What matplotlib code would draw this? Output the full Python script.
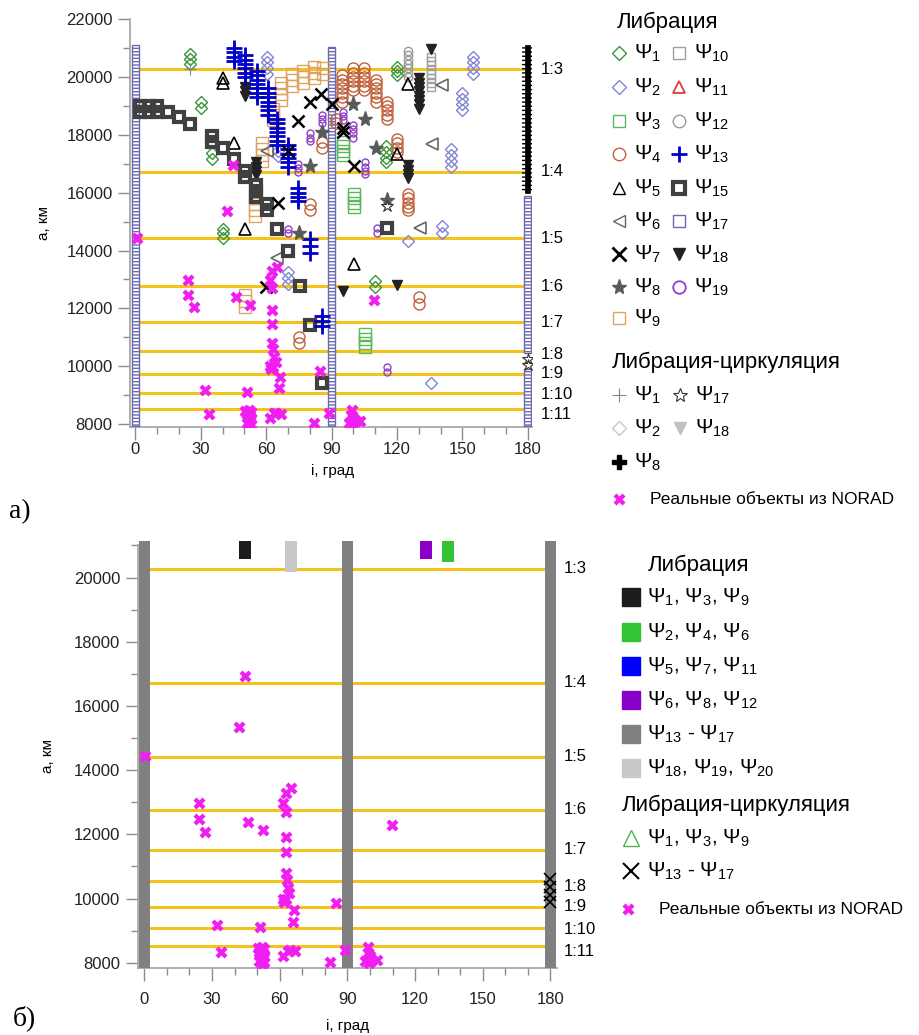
import matplotlib
matplotlib.use('Agg')
import matplotlib.pyplot as plt
from matplotlib.ticker import MultipleLocator

plt.rcParams['font.family'] = ['Liberation Sans', 'DejaVu Sans']
plt.rcParams['mathtext.fontset'] = 'custom'
plt.rcParams['mathtext.rm'] = 'Liberation Sans'
plt.rcParams['mathtext.it'] = 'Liberation Sans'
plt.rcParams['mathtext.default'] = 'regular'
plt.rcParams['hatch.linewidth'] = 1.0

# резонансы
res_labels = ['1:3', '1:4', '1:5', '1:6', '1:7', '1:8', '1:9', '1:10', '1:11']
res_a = [20270, 16730, 14420, 12770, 11520, 10540, 9750, 9080, 8520]

# реальные объекты NORAD (i, a)
norad_i = [0.5, 44.6, 42, 24.1, 24.1, 27, 46, 52.7, 32, 33.9, 51.4,
           50.5, 52, 53, 51, 52.5, 51.5, 53, 52, 51, 53, 52,
           61.6, 62.8, 65, 62.8, 62.8, 62.8, 62.8, 63.2, 63.6, 64.3, 61.6, 62, 63,
           66.2, 65.7, 61.6, 64.5, 66.9, 63.5,
           82.1, 84.8, 88.8, 99.2, 99, 100, 101, 98, 103, 99.5, 109.7]
norad_a = [14430, 16940, 15350, 12970, 12480, 12060, 12390, 12130, 9175, 8340, 9120,
           8450, 8500, 8420, 8350, 8300, 8220, 8180, 8100, 8050, 8020, 7960,
           12970, 13280, 13430, 12700, 11930, 11460, 10790, 10580, 10330, 10160, 10000, 9900, 9990,
           9640, 9260, 8220, 8400, 8360, 8380,
           8030, 9850, 8400, 8500, 8300, 8200, 8100, 8050, 8100, 8000, 12290]

# ---- а) либрация, по решениям Psi_k
psi1_i = [25, 25, 25, 30, 30, 35, 35, 40, 40, 40, 110, 110, 115, 115, 115, 115, 120, 120, 120]
psi1_a = [20800, 20620, 20440, 19150, 18930, 17360, 17180, 14760, 14600, 14440, 12960, 12740,
          17600, 17400, 17200, 17050, 20350, 20200, 20050]

psi2_i = [60.5, 60.5, 60.5, 60.5, 65.5, 65.5, 70, 70, 70, 125, 135.5, 140.5, 140.5,
          145, 145, 145, 145, 150, 150, 150, 150, 155, 155, 155, 155]
psi2_a = [20700, 20500, 20300, 20100, 17450, 17250, 13250, 13050, 12850, 14330, 9410, 14850, 14620,
          17500, 17300, 17100, 16900, 19450, 19250, 19050, 18850, 20700, 20500, 20300, 20100]

psi3_i = [95.3, 95.3, 95.3, 95.3, 100.3, 100.3, 100.3, 100.3, 105.4, 105.4, 105.4, 105.4]
psi3_a = [17750, 17600, 17450, 17300, 15950, 15800, 15650, 15500, 11100, 10950, 10800, 10650]

psi4_i = [75, 75, 80, 80, 85.5, 85.5, 92, 92,
          95, 95, 95, 95, 95, 95, 95,
          100, 100, 100, 100, 100, 100,
          105, 105, 105, 105, 105, 105,
          110.6, 110.6, 110.6, 110.6, 110.6, 110.6,
          115.3, 115.3, 115.3, 115.3, 115.3,
          120, 120, 120, 120,
          125, 125, 125, 125, 125,
          130, 130]
psi4_a = [11000, 10800, 15600, 15400, 17750, 17550, 18550, 18400,
          20050, 19900, 19750, 19600, 19450, 19300, 19150,
          20300, 20150, 20000, 19850, 19700, 19550,
          20300, 20150, 20000, 19850, 19700, 19550,
          19900, 19750, 19600, 19450, 19300, 19150,
          19150, 19000, 18850, 18700, 18550,
          17850, 17700, 17550, 17400,
          15950, 15800, 15650, 15500, 15400,
          12400, 12150]

psi5_i = [40.4, 40.4, 45.4, 50.4, 100.3, 120, 125]
psi5_a = [19950, 19780, 17710, 14750, 13540, 17330, 19770]

psi6_i = [60.4, 65, 130.5, 136, 140.6]
psi6_a = [17450, 13750, 14780, 17670, 19730]

psi7_i = [60, 65.5, 70, 74.7, 80, 85, 90, 95.3, 95.3, 100.5]
psi7_a = [12750, 15640, 17430, 18460, 19150, 19400, 19050, 18250, 18100, 16920]

psi8_i = [75, 80, 85.6, 100, 105.3, 110.4, 115.4]
psi8_a = [14600, 16920, 18100, 19050, 18530, 17540, 15750]

psi9_i = [50.4, 50.4, 50.4, 55, 55, 55, 55, 58, 58, 58, 58, 63, 63, 63,
          67, 67, 67, 67, 72, 72, 72, 77, 77, 77, 82, 82, 82, 86, 86]
psi9_a = [12450, 12250, 12050, 15800, 15600, 15400, 15200, 17700, 17500, 17300, 17100,
          18900, 18700, 18500, 19800, 19600, 19400, 19200, 20100, 19900, 19700,
          20200, 20000, 19800, 20350, 20150, 19950, 20300, 20100]

psi10_i = [135.5, 135.5, 135.5, 135.5, 135.5, 135.5, 135.5, 135.5]
psi10_a = [20700, 20550, 20400, 20250, 20100, 19950, 19800, 19650]

psi12_i = [125, 125, 125, 125, 125, 125, 125]
psi12_a = [20900, 20750, 20600, 20450, 20300, 20150, 20000]

psi13_i = [45, 45, 45, 45,
           50.4, 50.4, 50.4, 50.4, 50.4, 50.4,
           55.8, 55.8, 55.8, 55.8, 55.8, 55.8, 55.8,
           61, 61, 61, 61, 61, 61, 61,
           65, 65, 65, 65, 65, 65, 65,
           70, 70, 70, 70, 70, 70,
           74.7, 74.7, 74.7, 74.7,
           80, 80, 80, 85.6, 85.6, 85.6]
psi13_a = [21000, 20850, 20700, 20550,
           20750, 20600, 20450, 20300, 20150, 20000,
           20200, 20050, 19900, 19750, 19600, 19450, 19300,
           19600, 19450, 19300, 19150, 19000, 18850, 18700,
           18550, 18400, 18250, 18100, 17950, 17800, 17650,
           17650, 17500, 17350, 17200, 17050, 16900,
           16150, 16000, 15850, 15700,
           14400, 14150, 13900, 11750, 11550, 11400]

psi15_i = [2, 6, 10, 2, 6, 10, 15, 20, 25, 35.3, 35.3, 40.4, 45.4, 50.4, 50.4,
           55.4, 55.4, 55.4, 60.4, 60.4, 65, 70, 75.6, 80.2, 85.7, 115.4]
psi15_a = [19000, 19000, 19000, 18800, 18800, 18800, 18800, 18600, 18380, 17950, 17750, 17550, 17150,
           16750, 16550, 16250, 16050, 15850, 15600, 15400, 14750, 13990, 12780, 11410, 9410, 14780]

psi18_i = [135.5, 130, 130, 130, 130, 130, 130, 130, 130, 50.4, 50.4, 50.4,
           55.4, 55.4, 55.4, 55.4, 125, 125, 125, 125, 95.3, 120]
psi18_a = [20950, 19950, 19800, 19650, 19500, 19350, 19200, 19050, 18900, 19650, 19500, 19350,
           17050, 16900, 16750, 16600, 16950, 16800, 16650, 16500, 12610, 12820]

psi19_i = [70, 70, 74.7, 74.7, 74.7, 80, 80, 80, 85.6, 85.6, 85.6, 95.3, 95.3, 95.3,
           100, 100, 100, 100, 105.3, 105.3, 105.3, 105.3, 110.8, 110.8, 115.4, 115.4]
psi19_a = [14750, 14600, 17000, 16850, 16700, 18050, 17900, 17780, 18700, 18550, 18400,
           18800, 18650, 18500, 18350, 18200, 18050, 17900, 17050, 16900, 16750, 16650,
           14780, 14600, 9960, 9800]

# Psi_17: столбцы-«лесенки» (i, нижняя и верхняя граница a)
lad_i = [0, 90, 180, 180]
lad_lo = [7950, 7950, 7950, 10450]
lad_hi = [21110, 21050, 9900, 15900]

# либрация-циркуляция
lc1_i, lc1_a = [25], [20280]
lc17_i, lc17_a = [115.4, 180, 180], [15550, 10250, 10050]
lc8_i, lc8_lo, lc8_hi = [180], [16000], [21100]

# ---- б) обобщённые области
stripe_i = [0, 90, 180]
stripe_lo, stripe_hi = 7830, 21140
blk_i = [44.8, 65, 125, 134.7]
blk_lo = [20580, 20180, 20570, 20480]
blk_col = ['#1c1c1c', '#c8c8c8', '#8a00c8', '#33c433']
xc_i = [180, 180, 180, 180]
xc_a = [10600, 10350, 10100, 9900]

GOLD = '#f5c21b'
MAG = '#f01ef0'

fig = plt.figure(figsize=(9.2, 10.35), dpi=100)
ax1 = fig.add_axes([0.1413, 0.5874, 0.437, 0.3942])
ax2 = fig.add_axes([0.1495, 0.0645, 0.4562, 0.4131])


def frame(ax, ylim, yticks, xpad):
    ax.set_ylim(*ylim)
    ax.set_yticks(yticks)
    ax.set_xticks([0, 30, 60, 90, 120, 150, 180])
    ax.xaxis.set_minor_locator(MultipleLocator(10))
    ax.yaxis.set_minor_locator(MultipleLocator(1000))
    for s in ['top', 'right']:
        ax.spines[s].set_visible(False)
    for s in ['left', 'bottom']:
        ax.spines[s].set_color('#a8a8a8')
        ax.spines[s].set_linewidth(1.3)
    ax.tick_params(which='major', length=9, width=1, color='#8c8c8c', labelsize=12,
                   labelcolor='#222222')
    ax.tick_params(which='minor', length=5, width=1, color='#8c8c8c')
    ax.tick_params(axis='x', which='major', pad=xpad)
    ax.set_xlabel('i, град', fontsize=11)
    ax.set_ylabel('a, км', fontsize=11)
    ax.hlines(res_a, 0, 180, color=GOLD, lw=2.2, zorder=1)
    for lab, a in zip(res_labels, res_a):
        dy = {'1:8': -150, '1:10': -50, '1:11': -170}.get(lab, 0)
        ax.text(186, a + dy, lab, fontsize=12, va='center', ha='left', clip_on=False)


# ---------- панель а)
ax1.set_xlim(-2.5, 182)
frame(ax1, (7900, 22000), range(8000, 22001, 2000), 2)
ax1.xaxis.set_label_coords(0.505, -0.09)
ax1.yaxis.set_label_coords(-0.197, 0.5)

ax1.bar(lad_i, [h - l for h, l in zip(lad_hi, lad_lo)], bottom=lad_lo, width=3.0,
        color='white', edgecolor='#6a6ab0', hatch='-----', linewidth=1, zorder=3)
ax1.bar(lc8_i, [h - l for h, l in zip(lc8_hi, lc8_lo)], bottom=lc8_lo, width=5.5,
        color='none', edgecolor='black', hatch='----', linewidth=0, zorder=3)
ax1.bar(lc8_i, [h - l for h, l in zip(lc8_hi, lc8_lo)], bottom=lc8_lo, width=2.4,
        color='black', edgecolor='black', linewidth=0.5, zorder=3)


def pts(ax, i, a, **kw):
    kw.setdefault('mfc', 'none')
    kw.setdefault('mew', 1)
    ax.plot(i, a, ls='none', zorder=4, **kw)


pts(ax1, psi9_i, psi9_a, marker='s', ms=8.5, mec='#dca464')
pts(ax1, psi4_i, psi4_a, marker='o', ms=8, mec='#c0603a')
pts(ax1, psi1_i, psi1_a, marker='D', ms=6.5, mec='#3a963a')
pts(ax1, psi2_i, psi2_a, marker='D', ms=6.5, mec='#8484d4')
pts(ax1, psi3_i, psi3_a, marker='s', ms=8.5, mec='#5cb85c')
pts(ax1, psi10_i, psi10_a, marker='s', ms=6, mec='#a0a0a0')
pts(ax1, psi12_i, psi12_a, marker='o', ms=6, mec='#9a9a9a')
pts(ax1, psi19_i, psi19_a, marker='o', ms=5, mec='#9040c8')
pts(ax1, psi5_i, psi5_a, marker='^', ms=8, mec='black', mew=1.2)
pts(ax1, psi6_i, psi6_a, marker='<', ms=8, mec='#666666', mew=1.2)
pts(ax1, psi18_i, psi18_a, marker='v', ms=7.5, mfc='#222222', mec='#222222')
pts(ax1, psi15_i, psi15_a, marker='s', ms=7.5, mec='#404040', mew=3)
pts(ax1, psi13_i, psi13_a, marker='+', ms=12, mec='#0000c8', mew=2)
pts(ax1, psi7_i, psi7_a, marker='x', ms=9, mec='black', mew=1.8)
pts(ax1, psi8_i, psi8_a, marker='*', ms=11, mfc='#5a5a5a', mec='#5a5a5a')
pts(ax1, lc1_i, lc1_a, marker='+', ms=8, mec='#888888', mew=0.8)
pts(ax1, lc17_i, lc17_a, marker='*', ms=9, mfc='white', mec='#333333', mew=0.8)
pts(ax1, norad_i, norad_a, marker='X', ms=8.5, mfc=MAG, mec='none')

# ---------- панель б)
ax2.set_xlim(-3, 183)
frame(ax2, (7830, 21150), range(8000, 20001, 2000), 8)
ax2.spines['left'].set_bounds(7830, 21000)
ax2.xaxis.set_label_coords(0.5, -0.118)
ax2.yaxis.set_label_coords(-0.197, 0.496)

ax2.bar(stripe_i, stripe_hi - stripe_lo, bottom=stripe_lo, width=4.9, color='#808080', zorder=3)
ax2.bar(blk_i, [stripe_hi - b for b in blk_lo], bottom=blk_lo, width=5.4, color=blk_col, zorder=3)
pts(ax2, xc_i, xc_a, marker='x', ms=9, mec='black', mew=1.2)
pts(ax2, norad_i, norad_a, marker='X', ms=8.5, mfc=MAG, mec='none')

fig.text(20 / 920, 1 - 512 / 1035, 'а)', fontsize=20, family='Liberation Serif', ha='center', va='center')
fig.text(24 / 920, 1 - 1018 / 1035, 'б)', fontsize=20, family='Liberation Serif', ha='center', va='center')

# ---------- легенды
ov = fig.add_axes([0, 0, 1, 1], zorder=5)
ov.set_xlim(0, 920)
ov.set_ylim(1035, 0)
ov.axis('off')


def key(x, y, **kw):
    kw.setdefault('mfc', 'none')
    kw.setdefault('mew', 1)
    ov.plot([x], [y], ls='none', **kw)


def psi(n):
    return 'Ψ$_{%s}$' % n


ov.text(617, 22, 'Либрация', fontsize=16, va='center')
rows = [53, 87, 121, 154, 188, 221, 254, 287, 318]
left = [dict(marker='D', ms=7, mec='#3a963a'), dict(marker='D', ms=7, mec='#8484d4'),
        dict(marker='s', ms=9, mec='#5cb85c'), dict(marker='o', ms=9, mec='#c0603a'),
        dict(marker='^', ms=9, mec='black'), dict(marker='<', ms=9, mec='#666666'),
        dict(marker='x', ms=10, mec='black', mew=2), dict(marker='*', ms=11, mfc='#5a5a5a', mec='#5a5a5a'),
        dict(marker='s', ms=9, mec='#dca464')]
right = [dict(marker='s', ms=9, mec='#a0a0a0'), dict(marker='^', ms=9, mec='#e03c3c', mew=1.3),
         dict(marker='o', ms=9, mec='#9a9a9a'), dict(marker='+', ms=12, mec='#0000c8', mew=2),
         dict(marker='s', ms=8, mec='#404040', mew=3), dict(marker='s', ms=9, mec='#6a6ab0'),
         dict(marker='v', ms=9, mfc='#222222', mec='#222222'), dict(marker='o', ms=9, mec='#9040c8', mew=1.3)]
lnum = [1, 2, 3, 4, 5, 6, 7, 8, 9]
rnum = [10, 11, 12, 13, 15, 17, 18, 19]
for k, y in enumerate(rows):
    key(619, y, **left[k])
    ov.text(634, y, psi(lnum[k]), fontsize=15, va='center')
    if k < len(right):
        key(679, y, **right[k])
        ov.text(694, y, psi(rnum[k]), fontsize=15, va='center')

ov.text(612, 362, 'Либрация-циркуляция', fontsize=16, va='center')
key(619, 395, marker='+', ms=10, mec='#888888', mew=0.8)
ov.text(634, 395, psi(1), fontsize=15, va='center')
key(680, 395, marker='*', ms=10, mfc='white', mec='#333333', mew=0.8)
ov.text(695, 395, psi(17), fontsize=15, va='center')
key(619, 428, marker='D', ms=7, mec='#c8c8c8')
ov.text(634, 428, psi(2), fontsize=15, va='center')
key(680, 428, marker='v', ms=9, mfc='#c0c0c0', mec='#c0c0c0')
ov.text(695, 428, psi(18), fontsize=15, va='center')
key(619, 462, marker='P', ms=10, mfc='black', mec='black')
ov.text(634, 462, psi(8), fontsize=15, va='center')
key(619, 499, marker='X', ms=8.5, mfc=MAG, mec='none')
ov.text(650, 499, 'Реальные объекты из NORAD', fontsize=12.5, va='center')

ov.text(648, 565, 'Либрация', fontsize=16, va='center')
sq_rows = [597, 632, 666, 700, 734, 768]
sq_col = ['#1c1c1c', '#33c433', '#0000ff', '#8a00c8', '#808080', '#c8c8c8']
sq_txt = [psi(1) + ', ' + psi(3) + ', ' + psi(9), psi(2) + ', ' + psi(4) + ', ' + psi(6),
          psi(5) + ', ' + psi(7) + ', ' + psi(11), psi(6) + ', ' + psi(8) + ', ' + psi(12),
          psi(13) + ' - ' + psi(17), psi(18) + ', ' + psi(19) + ', ' + psi(20)]
for y, c, t in zip(sq_rows, sq_col, sq_txt):
    key(631, y, marker='s', ms=13, mfc=c, mec=c)
    ov.text(647, y, t, fontsize=15, va='center')
ov.text(622, 805, 'Либрация-циркуляция', fontsize=16, va='center')
key(631, 838, marker='^', ms=11, mec='#4cb84c')
ov.text(647, 838, psi(1) + ', ' + psi(3) + ', ' + psi(9), fontsize=15, va='center')
key(631, 871, marker='x', ms=11, mec='black', mew=1.5)
ov.text(647, 871, psi(13) + ' - ' + psi(17), fontsize=15, va='center')
key(628, 909, marker='X', ms=8.5, mfc=MAG, mec='none')
ov.text(659, 909, 'Реальные объекты из NORAD', fontsize=12.5, va='center')

fig.savefig('out.png', dpi=100)
